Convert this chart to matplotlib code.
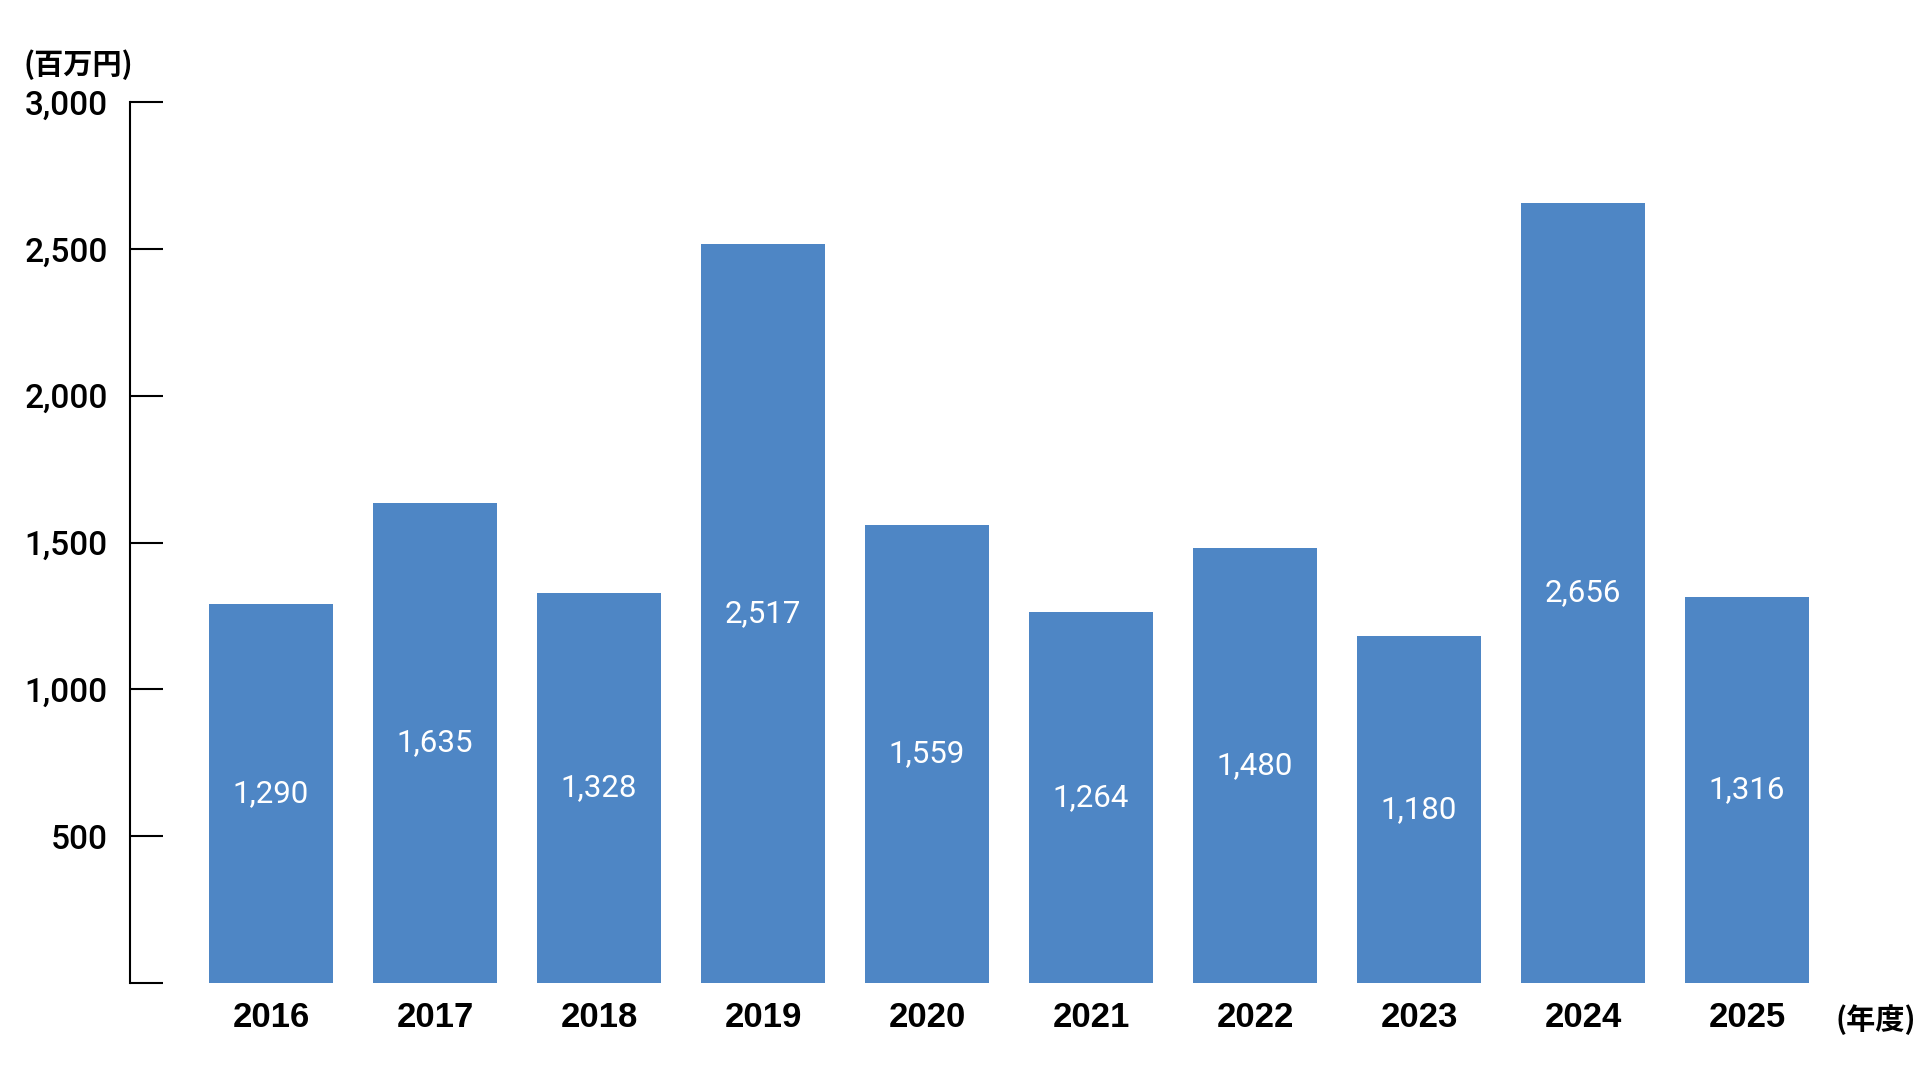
import matplotlib
matplotlib.use('Agg')
import matplotlib.pyplot as plt
import numpy as np

years = ['2016', '2017', '2018', '2019', '2020', '2021', '2022', '2023', '2024', '2025']
values = [1290, 1635, 1328, 2517, 1559, 1264, 1480, 1180, 2656, 1316]
yticks = [0, 500, 1000, 1500, 2000, 2500, 3000]
ytick_labels = ['', '500', '1,000', '1,500', '2,000', '2,500', '3,000']

plt.rcParams['font.family'] = ['Liberation Sans', 'Noto Sans CJK JP', 'DejaVu Sans']

bar_color = '#4e86c5'

fig = plt.figure(figsize=(19.2, 10.8), dpi=100)
ax = fig.add_axes([130 / 1920, 97 / 1080, 1700 / 1920, 881 / 1080])

x = np.arange(len(years))
ax.bar(x, values, width=0.756, color=bar_color, zorder=2)

# value labels in the middle of each bar
for xi, v in zip(x, values):
    ax.text(xi, v / 2, f'{v:,}', ha='center', va='center', color='white',
            fontsize=22.5, family=['Roboto', 'Liberation Sans'], fontweight='normal')

ax.set_xlim(-0.86, 9.506)
ax.set_ylim(0, 3000)

ax.set_yticks(yticks)
ax.set_yticklabels(ytick_labels, fontsize=24, fontweight='medium',
                   family=['Roboto', 'Liberation Sans'])
ax.tick_params(axis='y', direction='in', length=24, width=1.5, pad=16, color='black')

ax.set_xticks(x)
ax.set_xticklabels(years, fontsize=25, fontweight='bold')
ax.tick_params(axis='x', length=0, pad=13)

for s in ['top', 'right', 'bottom']:
    ax.spines[s].set_visible(False)
ax.spines['left'].set_linewidth(1.5)

fig.text(23 / 1920, 1 - 65 / 1080, '(百万円)', ha='left', va='center',
         fontsize=21, fontweight='bold', family=['Noto Sans CJK JP'])
fig.text(1835 / 1920, 1 - 1020 / 1080, '(年度)', ha='left', va='center',
         fontsize=21, fontweight='bold', family=['Noto Sans CJK JP'])

fig.savefig('out.png', dpi=100)
